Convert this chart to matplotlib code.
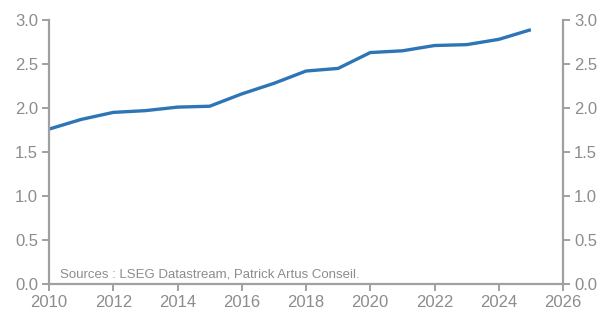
import matplotlib
matplotlib.use("Agg")
import matplotlib.pyplot as plt

years = [2010, 2011, 2012, 2013, 2014, 2015, 2016, 2017,
         2018, 2019, 2020, 2021, 2022, 2023, 2024, 2025]
values = [1.76, 1.87, 1.95, 1.97, 2.01, 2.02, 2.16, 2.28,
          2.42, 2.45, 2.63, 2.65, 2.71, 2.72, 2.78, 2.89]
x_ticks = list(range(2010, 2027, 2))
y_ticks = [0.0, 0.5, 1.0, 1.5, 2.0, 2.5, 3.0]
source = "Sources : LSEG Datastream, Patrick Artus Conseil."

plt.rcParams['font.family'] = ['Liberation Sans', 'DejaVu Sans']
grey = '#8c8c8c'
axis_grey = '#a0a0a0'

fig = plt.figure(figsize=(6.03, 3.13), dpi=100)
ax = fig.add_axes([49 / 603, 29 / 313, (563 - 49) / 603, (284 - 20) / 313])

ax.plot(years, values, color='#2e75b6', lw=2.4, solid_capstyle='butt')

ax.set_xlim(2010, 2026)
ax.set_ylim(0, 3.0)
ax.set_xticks(x_ticks)
ax.set_yticks(y_ticks)
ax.set_yticklabels([f"{v:.1f}" for v in y_ticks])

ax2 = ax.twinx()
ax2.set_ylim(0, 3.0)
ax2.set_yticks(y_ticks)
ax2.set_yticklabels([f"{v:.1f}" for v in y_ticks])

for a in (ax, ax2):
    a.spines['top'].set_visible(False)
    for s in ('left', 'right', 'bottom'):
        a.spines[s].set_color(axis_grey)
        a.spines[s].set_linewidth(1.6)
    a.tick_params(colors=axis_grey, labelcolor=grey, labelsize=12,
                  length=5, width=1.4, direction='out', pad=3)
ax2.spines['left'].set_visible(False)
ax2.spines['bottom'].set_visible(False)
ax.spines['right'].set_visible(False)

ax.text(2010.33, 0.04, source, color=grey, fontsize=9.5, ha='left', va='bottom')

fig.savefig("out.png", dpi=100)
